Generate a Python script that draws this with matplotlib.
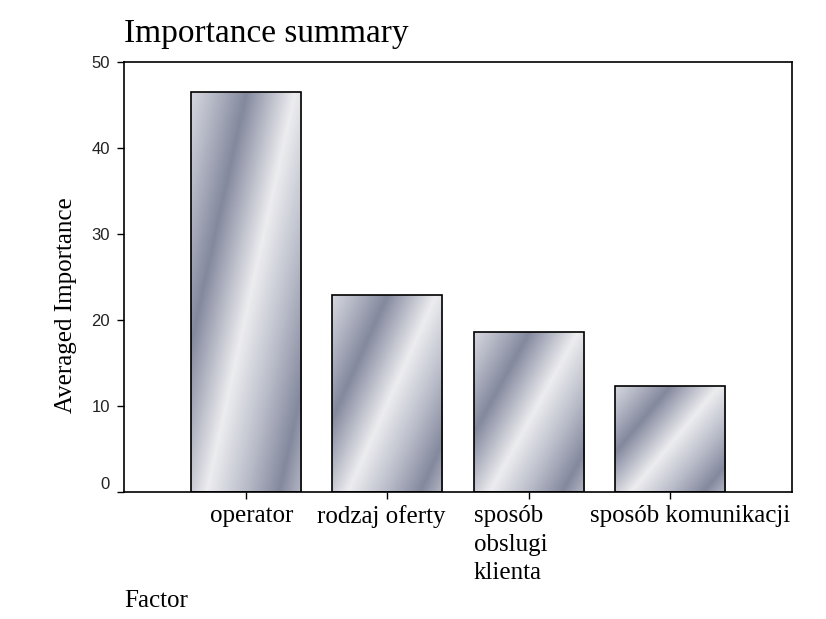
import numpy as np
import matplotlib
matplotlib.use('Agg')
import matplotlib.pyplot as plt
import matplotlib.transforms as mtransforms
from matplotlib.colors import LinearSegmentedColormap

factors = ['operator', 'rodzaj oferty', 'sposób\nobslugi\nklienta', 'sposób komunikacji']
importance = [46.5, 22.9, 18.6, 12.3]
yticks = [0, 10, 20, 30, 40, 50]

SERIF = 'Liberation Serif'
SANS = 'Liberation Sans'

fig = plt.figure(figsize=(8.26, 6.19), dpi=100)
ax = fig.add_axes([0.1501, 0.2052, 0.8087, 0.6946])

x = np.arange(len(factors))
width = 0.78
bars = ax.bar(x, importance, width=width, facecolor='none', edgecolor='black',
              linewidth=1.2, zorder=3)

# metallic diagonal gradient inside each bar (dark -> light -> mid -> dark)
cmap = LinearSegmentedColormap.from_list(
    'metal', [(0.0, '#84899e'), (0.4, '#ededf0'), (0.7, '#bcbfcb'), (1.0, '#84899e')])
ny, nx = 300, 120
u = np.linspace(0, 1, nx)
v = np.linspace(1, 0, ny)          # 1 at top of bar
U, V = np.meshgrid(u, v)
phase = np.mod((U - 0.8 * V + 0.3) / 1.1, 1.0)
for b in bars:
    bx, by = b.get_x(), b.get_y()
    im = ax.imshow(phase, cmap=cmap, vmin=0, vmax=1, aspect='auto',
                   extent=[bx, bx + b.get_width(), by, by + b.get_height()],
                   interpolation='bilinear', zorder=2)
    im.set_clip_path(b)

ax.set_xlim(-0.862, 3.862)
ax.set_ylim(0, 50)
ax.set_yticks(yticks)
ax.set_yticklabels([str(t) for t in yticks], fontfamily=SANS, fontsize=12,
                   color='#222222')
ax.tick_params(axis='y', direction='out', length=5, width=1, pad=5)
ax.set_xticks(x)
ax.set_xticklabels([])
ax.tick_params(axis='x', direction='out', length=5, width=1)
for s in ax.spines.values():
    s.set_linewidth(1.2)

# the zero label sits a little above its tick
zero = ax.yaxis.get_major_ticks()[0].label1
zero.set_transform(zero.get_transform() +
                   mtransforms.ScaledTranslation(0, 9 / 100, fig.dpi_scale_trans))

# category labels under the axis
label_x = [0.04, -0.04, -0.39, 0.14]
label_ha = ['center', 'center', 'left', 'center']
for i, (lab, dx, ha) in enumerate(zip(factors, label_x, label_ha)):
    px = x[i] + dx if ha == 'center' else x[i] - width / 2
    ax.text(px, -0.03, lab, transform=ax.get_xaxis_transform(), ha=ha, va='top',
            multialignment='left', fontfamily=SERIF, fontsize=18, linespacing=1.4)

ax.set_ylabel('Averaged Importance', fontfamily=SERIF, fontsize=18)
ax.yaxis.set_label_coords(-0.070, 0.435)
fig.text(0.1501, 0.946, 'Importance summary', fontfamily=SERIF, fontsize=24,
         ha='left', va='center')
fig.text(0.1501, 0.029, 'Factor', fontfamily=SERIF, fontsize=18, ha='left',
         va='center')

fig.savefig('out.png', dpi=100)
